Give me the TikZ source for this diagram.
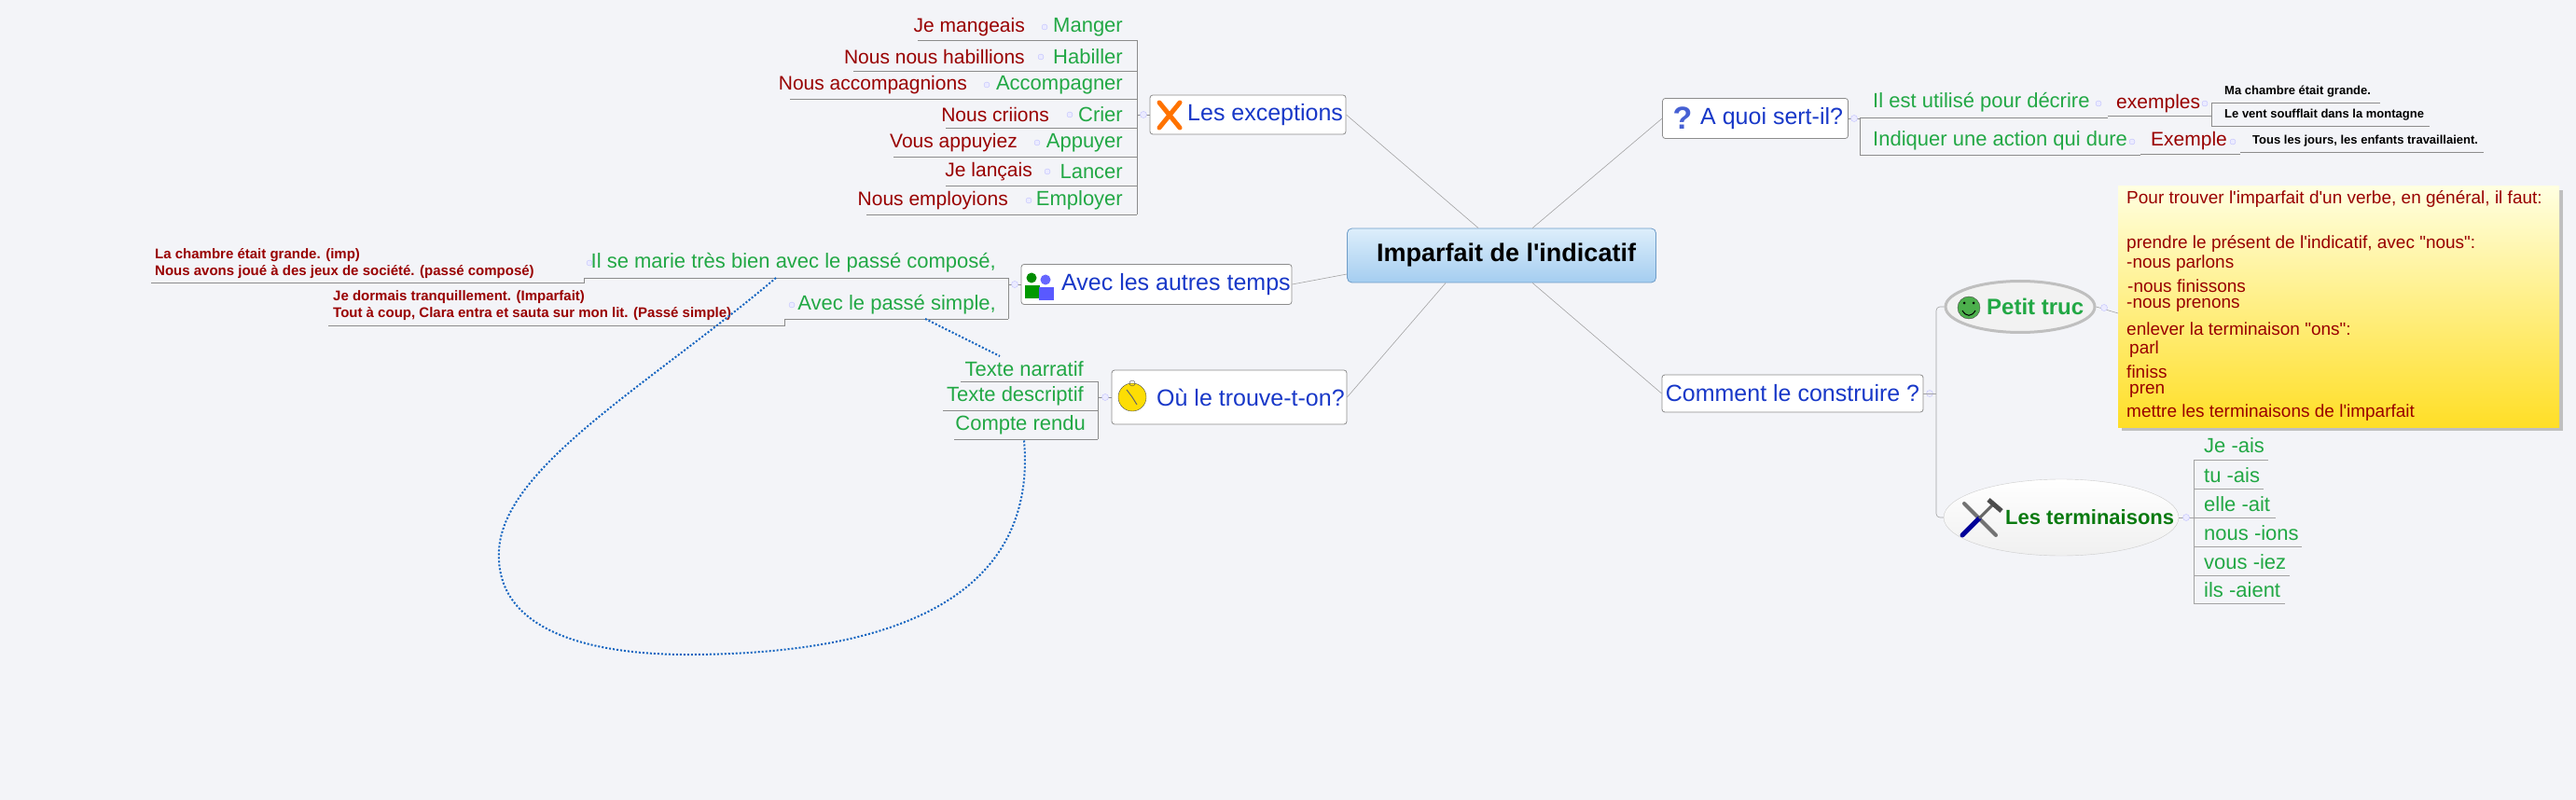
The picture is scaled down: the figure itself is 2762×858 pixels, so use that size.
\documentclass[tikz,border=0pt]{standalone}
\usepackage{fontspec}
\setmainfont[Ligatures=TeXOff]{Liberation Sans}
\usetikzlibrary{shapes.geometric}
\definecolor{bg}{HTML}{F3F4F8}
\definecolor{gr}{HTML}{22A845}
\definecolor{rd}{HTML}{990000}
\definecolor{bl}{HTML}{1838C8}
\definecolor{ln}{HTML}{8C8C8C}
\definecolor{dk}{HTML}{0A7A10}
\definecolor{dot}{HTML}{1565C0}
\definecolor{ctop}{HTML}{DDEEFB}
\definecolor{cbot}{HTML}{A4CDF0}
\definecolor{cbd}{HTML}{6E9CC8}
\newcommand{\fz}[1]{\fontsize{#1}{#1}\selectfont}
\begin{document}
\begin{tikzpicture}[x=1pt,y=-1pt,
  box/.style={draw=ln,fill=white,rounded corners=3pt,line width=0.8pt,inner sep=0pt},
  btxt/.style={text=bl,font=\fz{25},inner sep=0pt},
  gtxt/.style={text=gr,font=\fz{22},inner sep=0pt,anchor=east},
  rtxt/.style={text=rd,font=\fz{21},inner sep=0pt,anchor=east},
  ntxt/.style={text=rd,font=\fz{19},inner sep=0pt,anchor=west},
  ul/.style={draw=ln,line width=0.8pt},
  conn/.style={draw=ln!80,line width=0.6pt},
  knob/.style={circle,draw=blue!25,fill=blue!8,minimum size=7pt,inner sep=0pt},
  rel/.style={draw=dot,dotted,line width=2pt}]
\useasboundingbox (0,0) rectangle (2762,858);
\fill[bg] (0,0) rectangle (2762,858);

% central
\node[draw=cbd,rounded corners=5pt,top color=ctop,bottom color=cbot,line width=0.8pt,minimum width=331pt,minimum height=58pt,inner sep=0pt] (c) at (1610,274) {};
\node[font=\bfseries\fz{27},inner sep=0pt] (ct) at (1615,274) {Imparfait de l'indicatif};

% Les exceptions
\node[box,minimum width=210pt,minimum height=42pt] (exc) at (1338,123) {};
\node[btxt,anchor=west] (exct) at (1273,123) {Les exceptions};
\draw[orange!90!red,line width=5pt,line cap=round] (1243,110)--(1265,137) (1265,110)--(1243,137);
\draw[conn] (exc.east) -- ([xshift=141pt]c.north west);
\draw[ul] (exc.west) -- (1219,123);
\node[knob] (k1) at (1226,123) {};
\draw[ul,rounded corners=3pt] (1219,43) -- (1219,230);
\foreach \yc/\yu/\g/\gl/\r/\rr/\rl in {
  29/43/Manger/1112/Je mangeais/1099/984,
  61/76/Habiller/1108/Nous nous habillions/1099/915,
  91/106/Accompagner/1050/Nous accompagnions/1037/847,
  123/137/Crier/1139/Nous criions/1125/1014,
  153/168/Appuyer/1104/Vous appuyiez/1091/958,
  184/199/Lancer/1115/Je lançais/1107/1014,
  215/230/Employer/1095/Nous employions/1081/929}{
  \node[gtxt] (g\yc) at (1204,\yc) {\g};
  \node[rtxt] (r\yc) at (\rr,\yc) {\r};
  \draw[ul] (\gl,\yu) -- (1219,\yu);
  \draw[ul] (\rl,\yu) -- (\gl,\yu);
  \node[knob,minimum size=6pt] at (\gl+8,\yc) {};
}

% Avec les autres temps
\node[box,minimum width=290pt,minimum height=43pt] (av) at (1240,305) {};
\node[btxt,anchor=west] (avt) at (1138,305) {Avec les autres temps};
\fill[green!55!black] (1106,298) circle (5.5pt);
\fill[green!60!black] (1099,320) rectangle (1115,306);
\fill[blue!60] (1121,300) circle (5.5pt);
\fill[blue!65] (1114,322) rectangle (1130,308);
\draw[conn] (av.east) -- ([yshift=-20pt]c.west);
\draw[ul] (av.west) -- (1081,305);
\node[knob] at (1088,305) {};
\draw[ul] (1081,298) -- (1081,342);
\node[gtxt] (il) at (1068,282) {Il se marie très bien avec le passé composé,};
\draw[ul] (626,298) -- (1081,298);
\node[text=rd,font=\bfseries\fz{15},align=left,anchor=west,inner sep=0pt] (ilr) at (166,283) {La chambre était grande. (imp)\\[3pt]Nous avons joué à des jeux de société. (passé composé)};
\draw[ul] (162,303) -- (626,303) -- (626,298);
\node[knob,minimum size=6pt] at (632,282) {};
\node[gtxt] (ps) at (1068,327) {Avec le passé simple,};
\draw[ul] (841,342) -- (1081,342);
\node[text=rd,font=\bfseries\fz{15},align=left,anchor=west,inner sep=0pt] (psr) at (357,328) {Je dormais tranquillement. (Imparfait)\\[3pt]Tout à coup, Clara entra et sauta sur mon lit. (Passé simple)};
\draw[ul] (352,349) -- (841,349) -- (841,342);
\node[knob,minimum size=6pt] at (849,327) {};

% Ou le trouve-t-on
\node[box,minimum width=252pt,minimum height=58pt] (ou) at (1318,426) {};
\node[btxt,anchor=west] (out) at (1240,426) {Où le trouve-t-on?};
\draw[black!70,fill=yellow!80!orange] (1214,426) circle (15pt);
\draw[black!70] (1214,411) circle (3pt);
\draw[black!60,line width=1pt] (1214,426)--(1208,418) (1214,426)--(1219,434);
\draw[conn] (ou.east) -- ([xshift=106pt]c.south west);
\draw[ul] (ou.west) -- (1177,426);
\node[knob] at (1185,426) {};
\draw[ul] (1177,409) -- (1177,471);
\node[gtxt] (tn) at (1162,396) {Texte narratif};
\node[gtxt] (td) at (1162,425) {Texte descriptif};
\node[gtxt] (cr) at (1164,456) {Compte rendu};
\draw[ul] (1030,409) -- (1177,409);
\draw[ul] (1011,440) -- (1177,440);
\draw[ul] (1023,471) -- (1177,471);

% relationships
\draw[rel] (832,298) .. controls (700,410) and (540,500) .. (535,590) .. controls (530,680) and (640,703) .. (744,702) .. controls (1010,700) and (1110,610) .. (1098,472);
\draw[rel] (992,342) -- (1072,382);

% A quoi sert-il
\node[box,minimum width=199pt,minimum height=43pt] (aq) at (1882,127) {};
\node[btxt,anchor=west] (aqt) at (1823,127) {A quoi sert-il?};
\node[text=bl!80,font=\bfseries\fz{34},inner sep=0pt] at (1804,127) {?};
\draw[conn] (aq.west) -- ([xshift=199pt]c.north west);
\draw[ul] (aq.east) -- (1994,127);
\node[knob] at (1988,127) {};
\draw[ul] (1994,126) -- (1994,166);
\node[gtxt,anchor=west] (de) at (2008,110) {Il est utilisé pour décrire};
\draw[ul] (1994,126) -- (2260,126);
\node[knob,minimum size=6pt] at (2250,111) {};
\node[rtxt,anchor=west] (ex) at (2269,111) {exemples};
\draw[ul] (2260,124) -- (2371,124);
\node[knob,minimum size=6pt] at (2364,111) {};
\draw[ul] (2371,110) -- (2371,135);
\node[font=\bfseries\fz{13},inner sep=0pt,anchor=west] (e1) at (2385,98) {Ma chambre était grande.};
\draw[ul] (2371,110) -- (2552,110);
\node[font=\bfseries\fz{13},inner sep=0pt,anchor=west] (e2) at (2385,123) {Le vent soufflait dans la montagne};
\draw[ul] (2371,135) -- (2605,135);
\node[gtxt,anchor=west] (ind) at (2008,151) {Indiquer une action qui dure};
\draw[ul] (1994,166) -- (2295,166);
\node[knob,minimum size=6pt] at (2286,152) {};
\node[rtxt,anchor=west] (exe) at (2306,151) {Exemple};
\draw[ul] (2295,165) -- (2402,165);
\node[knob,minimum size=6pt] at (2394,152) {};
\node[font=\bfseries\fz{13},inner sep=0pt,anchor=west] (e3) at (2415,151) {Tous les jours, les enfants travaillaient.};
\draw[ul] (2402,163) -- (2663,163);

% Comment le construire
\node[box,minimum width=280pt,minimum height=40pt] (co) at (1922,422) {};
\node[btxt] (cot) at (1922,422) {Comment le construire ?};
\draw[conn] (co.west) -- ([xshift=199pt]c.south west);
\node[knob] at (2069,422) {};
\draw[conn] (co.east) -- (2076,422);

% Petit truc
\node[ellipse,draw=black!25,line width=3pt,fill=white!90!gray,minimum width=160pt,minimum height=55pt] (pt) at (2166,329) {};
\node[text=gr,font=\bfseries\fz{24},inner sep=0pt,anchor=west] (ptt) at (2130,329) {Petit truc};
\draw[black!70,fill=green!55!black!70] (2111,330) circle (12pt);
\fill[black] (2106,325) circle (1.5pt) (2116,325) circle (1.5pt);
\draw[black,line width=1pt] (2104,333) .. controls (2108,340) and (2114,340) .. (2118,333);
% Les terminaisons
\node[ellipse,draw=black!20,top color=white,bottom color=black!6,minimum width=252pt,minimum height=82pt] (lt) at (2210,555) {};
\node[text=dk,font=\bfseries\fz{22},inner sep=0pt,anchor=west] (ltt) at (2150,555) {Les terminaisons};
\draw[black!55,line width=4pt,line cap=round] (2106,540)--(2140,574);
\draw[blue!60!black,line width=5pt,line cap=round] (2104,574)--(2122,556);
\draw[black!60,line width=3pt] (2122,556)--(2138,540);
\draw[black!70,line width=5pt] (2132,536)--(2146,548);
\draw[conn,rounded corners=4pt] (pt.west) -- (2076,329) -- (2076,555) -- (lt.west);

% note
\fill[black!25] (2275,204) rectangle (2748,462);
\shade[top color=yellow!12,bottom color=yellow!70!orange!85] (2271,200) rectangle (2744,458);
\node[ntxt] (n1) at (2280,213) {Pour trouver l'imparfait d'un verbe, en général, il faut:};
\node[ntxt] (n2) at (2280,261) {prendre le présent de l'indicatif, avec "nous":};
\node[ntxt] (n3) at (2280,283) {-nous parlons};
\node[ntxt] (n4) at (2281,307) {-nous finissons};
\node[ntxt] (n5) at (2280,327) {-nous prenons};
\node[ntxt] (n6) at (2280,353) {enlever la terminaison "ons":};
\node[ntxt] (n7) at (2283,375) {parl};
\node[ntxt] (n8) at (2280,399) {finiss};
\node[ntxt] (n9) at (2283,419) {pren};
\node[ntxt] (n10) at (2280,443) {mettre les terminaisons de l'imparfait};
\draw[conn] (pt.east) -- (2271,336);
\node[knob] at (2256,330) {};

% terminaisons list
\draw[conn] (lt.east) -- (2352,555);
\node[knob] at (2344,555) {};
\draw[conn] (2352,493) -- (2352,647);
\foreach \yc/\yu/\t/\rr in {478/493/Je -ais/2432,510/524/tu -ais/2427,541/555/elle -ait/2440,572/586/nous -ions/2468,603/617/vous -iez/2455,633/647/ils -aient/2450}{
  \node[gtxt,anchor=west] at (2363,\yc) {\t};
  \draw[conn] (2352,\yu) -- (\rr,\yu);
}
\end{tikzpicture}
\end{document}
